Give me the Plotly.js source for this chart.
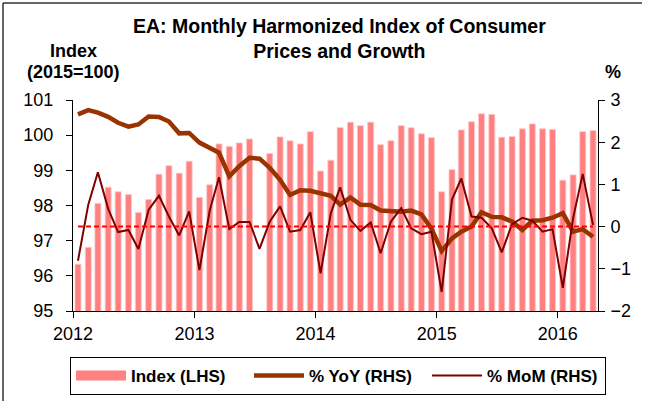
<!DOCTYPE html>
<html>
<head>
<meta charset="utf-8">
<script src="https://cdn.plot.ly/plotly-3.0.1.min.js"></script>
<style>html,body{margin:0;padding:0;background:#fff;}#chart{width:648px;height:401px;}</style>
</head>
<body>
<div id="chart"></div>
<script>
// Months (Jan 2012 - Apr 2016)
var months = [
 '2012-01','2012-02','2012-03','2012-04','2012-05','2012-06','2012-07','2012-08','2012-09','2012-10','2012-11','2012-12',
 '2013-01','2013-02','2013-03','2013-04','2013-05','2013-06','2013-07','2013-08','2013-09','2013-10','2013-11','2013-12',
 '2014-01','2014-02','2014-03','2014-04','2014-05','2014-06','2014-07','2014-08','2014-09','2014-10','2014-11','2014-12',
 '2015-01','2015-02','2015-03','2015-04','2015-05','2015-06','2015-07','2015-08','2015-09','2015-10','2015-11','2015-12',
 '2016-01','2016-02','2016-03','2016-04'];

// HICP index (2015=100), LHS
var indexLHS = [
 96.33,96.81,98.06,98.52,98.39,98.31,97.80,98.17,98.89,99.13,98.92,99.26,
 98.23,98.59,99.75,99.68,99.78,99.89,null,99.48,99.95,99.84,99.75,100.10,
 98.98,99.29,100.22,100.37,100.27,100.37,99.73,99.84,100.27,100.21,100.04,99.93,
 98.39,99.02,100.15,100.38,100.61,100.59,99.94,99.96,100.18,100.32,100.18,100.16,
 98.72,98.87,100.10,100.13];

// % YoY, RHS
var yoyRHS = [
 2.66,2.76,2.70,2.60,2.46,2.37,2.42,2.61,2.60,2.49,2.21,2.22,
 1.99,1.87,1.75,1.19,1.43,1.63,1.61,1.39,1.11,0.75,0.86,0.85,
 0.80,0.73,0.52,0.69,0.52,0.51,0.38,0.36,0.35,0.38,0.29,-0.05,
 -0.58,-0.28,-0.12,0.00,0.34,0.23,0.22,0.12,-0.08,0.14,0.15,0.21,
 0.32,-0.12,-0.06,-0.24];

// % MoM, RHS
var momRHS = [
 -0.81,0.52,1.29,0.42,-0.13,-0.08,-0.53,0.40,0.73,0.24,-0.21,0.36,
 -1.03,0.38,1.17,-0.06,0.11,0.11,-0.53,0.12,0.48,-0.12,-0.08,0.34,
 -1.11,0.32,0.93,0.16,-0.10,0.10,-0.63,0.12,0.44,-0.04,-0.18,-0.12,
 -1.55,0.64,1.14,0.24,0.21,-0.04,-0.61,0.06,0.21,0.14,-0.12,-0.06,
 -1.45,0.20,1.25,0.04];

var yearTicks = ['2012','2013','2014','2015','2016'];

var xDates = months.map(function(m){ return m + '-16'; });
var DAY = 86400000;

var traces = [
 {type:'bar', x:xDates, y:indexLHS, yaxis:'y', name:'Index (LHS)', showlegend:false,
  width:18*DAY, marker:{color:'#ff8080', line:{color:'#ffc8c8', width:0.8}}, hoverinfo:'x+y'},
 {type:'scatter', mode:'lines', x:[null], y:[null], yaxis:'y', name:'Index (LHS)',
  line:{color:'#ff8080', width:10}},
 {type:'scatter', mode:'lines', x:xDates, y:yoyRHS, yaxis:'y2', name:'% YoY (RHS)',
  line:{color:'#993300', width:4.5}},
 {type:'scatter', mode:'lines', x:xDates, y:momRHS, yaxis:'y2', name:'% MoM (RHS)',
  line:{color:'#800000', width:2}}
];

var axisCommon = {showgrid:false, zeroline:false, showline:true, linecolor:'#000', linewidth:1,
  ticks:'outside', ticklen:6, tickcolor:'#000', tickwidth:1, tickfont:{size:18, color:'#000'}};

var PX = function(px){ return (px-73)/525; };
var PY = function(py){ return (311-py)/211; };

var layout = {
 width:648, height:401,
 margin:{l:73, r:50, t:100, b:90, pad:0, autoexpand:false},
 paper_bgcolor:'#fff', plot_bgcolor:'#fff',
 font:{family:'"Liberation Sans", Arial, sans-serif', size:18, color:'#000'},
 xaxis: Object.assign({}, axisCommon, {type:'date', range:['2012-01-01','2016-05-01'],
   tickvals: yearTicks.map(function(y){return y+'-01-01';}), ticktext: yearTicks,
   ticklabelstandoff:0}),
 yaxis: Object.assign({}, axisCommon, {range:[95,101], dtick:1, tick0:95, ticklabelstandoff:9}),
 yaxis2: Object.assign({}, axisCommon, {range:[-2,3], dtick:1, tick0:-2, overlaying:'y', side:'right', ticklabelstandoff:2}),
 bargap:0,
 showlegend:true,
 legend:{orientation:'h', x:PX(70), xanchor:'left', y:PY(357), yanchor:'top',
   bordercolor:'#000', borderwidth:1, bgcolor:'#fff', itemwidth:50,
   font:{size:17, weight:'bold', color:'#000'}, traceorder:'normal', entrywidth:113, entrywidthmode:'pixels'},
 shapes:[
   {type:'line', xref:'x', yref:'y2', x0:xDates[0], x1:xDates[xDates.length-1], y0:0, y1:0,
    line:{color:'#ff0000', width:2, dash:'5px,3px'}, layer:'above'},
   {type:'line', xref:'paper', yref:'paper', x0:PX(3), x1:PX(3), y0:PY(401), y1:PY(3),
    line:{color:'#333', width:1.5}},
   {type:'line', xref:'paper', yref:'paper', x0:PX(3), x1:PX(642), y0:PY(3), y1:PY(3),
    line:{color:'#333', width:1.5}}
 ],
 annotations:[
   {text:'<b>EA: Monthly Harmonized Index of Consumer<br>Prices and Growth</b>', xref:'paper', yref:'paper',
    x:PX(339), y:PY(38), xanchor:'center', yanchor:'middle', showarrow:false,
    font:{size:19.5, color:'#000'}},
   {text:'Index', xref:'paper', yref:'paper', x:0, y:PY(51), xanchor:'center', yanchor:'middle',
    showarrow:false, font:{size:18, weight:'bold'}},
   {text:'(2015=100)', xref:'paper', yref:'paper', x:0, y:PY(72), xanchor:'center', yanchor:'middle',
    showarrow:false, font:{size:18, weight:'bold'}},
   {text:'%', xref:'paper', yref:'paper', x:PX(613), y:PY(72), xanchor:'center', yanchor:'middle',
    showarrow:false, font:{size:18, weight:'bold'}}
 ]
};

Plotly.newPlot('chart', traces, layout, {displayModeBar:false, staticPlot:true});
</script>
</body>
</html>
